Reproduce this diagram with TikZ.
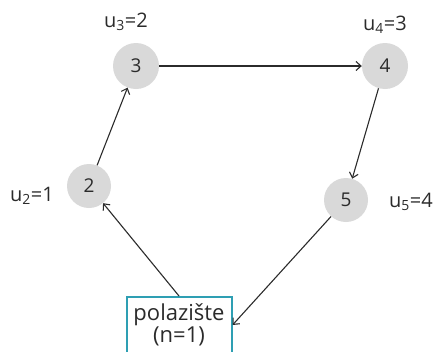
\documentclass[tikz,border=0pt]{standalone}
\usepackage{fontspec}
\setmainfont{Open Sans}
\usetikzlibrary{arrows.meta}
\definecolor{nodegray}{HTML}{D9D9D9}
\definecolor{boxteal}{HTML}{2E9FB3}
\definecolor{ink}{HTML}{2B2B2B}
\begin{document}
\begin{tikzpicture}[x=1pt,y=-1pt,
  vertex/.style={circle,fill=nodegray,minimum size=46pt,inner sep=0pt,text=ink,font=\fontsize{19}{22}\selectfont},
  lbl/.style={text=ink,font=\fontsize{20}{23}\selectfont,inner sep=0pt},
  startbox/.style={draw=boxteal,line width=2pt,fill=white,minimum width=105pt,minimum height=56pt,align=center,text=ink,font=\fontsize{22}{22}\selectfont,inner sep=0pt},
  conn/.style={draw=ink,line width=1.1pt,-{Straight Barb[length=5pt,width=9pt]}}]
\useasboundingbox (0,0) rectangle (436,351);
\node[vertex] (n3) at (136,66) {3};
\node[vertex] (n4) at (385,66) {4};
\node[vertex,minimum size=44pt] (n2) at (89,186) {2};
\node[vertex,minimum size=44pt] (n5) at (346,200) {5};
\node[startbox] (start) at (179,325) {polazište\\(n=1)};
\node[lbl] (l3) at (126,22) {u\textsubscript{3}=2};
\node[lbl] (l4) at (385,25) {u\textsubscript{4}=3};
\node[lbl] (l2) at (32,196) {u\textsubscript{2}=1};
\node[lbl] (l5) at (411,202) {u\textsubscript{5}=4};
\draw[conn] (n3) -- (n4);
\draw[conn] (n4) -- (n5);
\draw[conn] (n2) -- (n3);
\draw[conn] (start.north) -- (n2);
\draw[conn] (n5) -- (start.east);
\end{tikzpicture}
\end{document}
